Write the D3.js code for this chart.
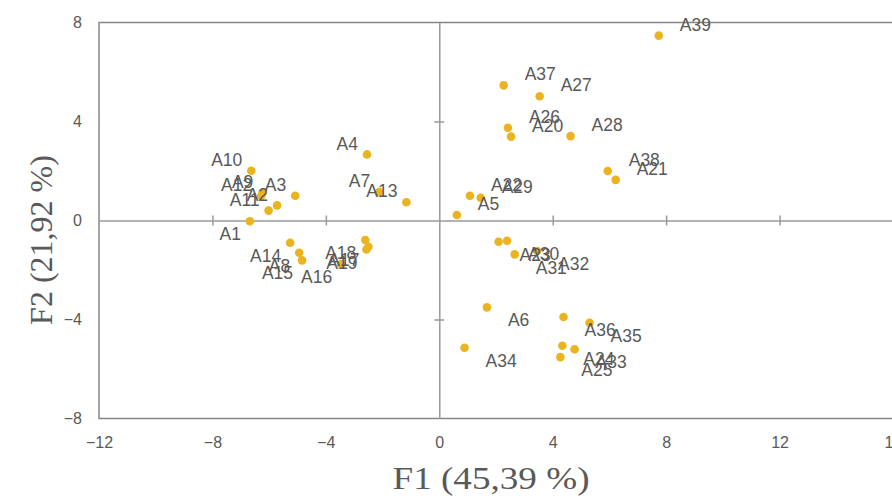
<!DOCTYPE html>
<html>
<head>
<meta charset="utf-8">
<script src="https://cdn.jsdelivr.net/npm/d3@7/dist/d3.min.js"></script>
<style>
    body { margin: 0; background: #fff; }
    .tick-label { font-family: "Liberation Sans", Arial, sans-serif; font-size: 16px; fill: #595959; }
    .obs-label { font-family: "Liberation Sans", Arial, sans-serif; font-size: 17.5px; fill: #595959; }
    .axis-title { font-family: "Liberation Serif", "Times New Roman", serif; font-size: 32px; fill: #595959; }
</style>
</head>
<body>
<div id="chart"></div>
<script>
// observations (F1, F2 factor scores)
const names = ['A1','A2','A3','A4','A5','A6','A7','A8','A9','A10',
    'A11','A12','A13','A14','A15','A16','A17','A18','A19','A20',
    'A21','A22','A23','A24','A25','A26','A27','A28','A29','A30',
    'A31','A32','A33','A34','A35','A36','A37','A38','A39'];
const f1 = [-6.68,-5.72,-5.08,-2.55,0.62,1.68,-2.12,-4.94,-6.24,-6.63,
    -6.02,-6.28,-1.16,-5.26,-4.84,-3.46,-2.50,-2.61,-2.57,2.53,
    6.22,1.08,2.09,4.34,4.27,2.42,3.54,4.63,1.46,2.39,
    2.66,3.45,4.77,0.89,5.30,4.38,2.27,5.94,7.74];
const f2 = [-0.03,0.61,1.00,2.67,0.22,-3.51,1.15,-1.30,1.11,2.01,
    0.40,0.99,0.74,-0.90,-1.61,-1.77,-1.06,-0.79,-1.17,3.39,
    1.64,1.00,-0.86,-5.06,-5.52,3.75,5.02,3.41,0.92,-0.82,
    -1.37,-1.23,-5.20,-5.14,-4.13,-3.90,5.46,2.00,7.47];

const xTicks = [-12,-8,-4,0,4,8,12,16];
const yTicks = [-8,-4,0,4,8];
const xTitle = 'F1 (45,39 %)';
const yTitle = 'F2 (21,92 %)';

// where each label sits relative to its point: u/l = up/low, l/r = left/right
const labelSide = ['ll','ul','ul','ul','ur','lr','ul','ll','ul','ul',
    'ul','ul','ul','ll','ll','ll','ll','ll','ll','ur',
    'ur','ur','lr','lr','lr','ur','ur','ur','ur','lr',
    'lr','lr','lr','lr','lr','lr','ur','ur','ur'];

const data = names.map((n, i) => ({name: n, x: f1[i], y: f2[i], side: labelSide[i]}));

const width = 892, height = 501;
const svg = d3.select('#chart').append('svg')
    .attr('width', width)
    .attr('height', height);

const xScale = d3.scaleLinear().domain([-12, 16]).range([99, 893]);
const yScale = d3.scaleLinear().domain([-8, 8]).range([418.5, 22.5]);

// frame
svg.append('path')
    .attr('d', `M${xScale(16)},${yScale(8)}H${xScale(-12)}V${yScale(-8)}H${xScale(16)}V${yScale(8)}`)
    .attr('fill', 'none')
    .attr('stroke', '#868686')
    .attr('stroke-width', 1.5);

// crosshair axes through the origin
const xZero = svg.append('g')
    .attr('transform', `translate(0,${yScale(0)})`)
    .call(d3.axisBottom(xScale).tickValues([-8,-4,4,8,12]).tickSize(5).tickSizeOuter(0).tickFormat(''));
xZero.selectAll('.tick line').attr('y1', -5);
const yZero = svg.append('g')
    .attr('transform', `translate(${xScale(0)},0)`)
    .call(d3.axisLeft(yScale).tickValues([-4,4]).tickSize(5).tickSizeOuter(0).tickFormat(''));
yZero.selectAll('.tick line').attr('x1', 5);
svg.selectAll('.domain, .tick line')
    .attr('stroke', '#9a9a9a')
    .attr('stroke-width', 1.5);

// tick labels on the frame
const xLab = svg.append('g')
    .attr('transform', `translate(0,${yScale(-8)})`)
    .call(d3.axisBottom(xScale).tickValues(xTicks).tickSize(0).tickPadding(18));
xLab.select('.domain').remove();
xLab.selectAll('text').attr('class', 'tick-label').attr('font-size', null).attr('font-family', null);

const yLab = svg.append('g')
    .attr('transform', `translate(${xScale(-12)},0)`)
    .call(d3.axisLeft(yScale).tickValues(yTicks).tickSize(0).tickPadding(17));
yLab.select('.domain').remove();
yLab.selectAll('text').attr('class', 'tick-label').attr('font-size', null).attr('font-family', null);

// points
svg.append('g').selectAll('circle')
    .data(data)
    .join('circle')
    .attr('cx', d => xScale(d.x))
    .attr('cy', d => yScale(d.y))
    .attr('r', 4.3)
    .attr('fill', '#ebb31e');

// labels
svg.append('g').selectAll('text')
    .data(data)
    .join('text')
    .attr('class', 'obs-label')
    .attr('x', d => d.side[1] === 'r' ? xScale(d.x) + 21 : xScale(d.x) - 9)
    .attr('y', d => d.side[0] === 'u' ? yScale(d.y) - 11 : yScale(d.y) + 13)
    .attr('dy', '0.35em')
    .attr('text-anchor', d => d.side[1] === 'r' ? 'start' : 'end')
    .text(d => d.name);

// axis titles
svg.append('text')
    .attr('class', 'axis-title')
    .attr('x', 491)
    .attr('y', 489)
    .attr('text-anchor', 'middle')
    .attr('textLength', 197)
    .attr('lengthAdjust', 'spacingAndGlyphs')
    .text(xTitle);

svg.append('text')
    .attr('class', 'axis-title')
    .attr('transform', 'translate(52,240) rotate(-90)')
    .attr('text-anchor', 'middle')
    .text(yTitle);
</script>
</body>
</html>
